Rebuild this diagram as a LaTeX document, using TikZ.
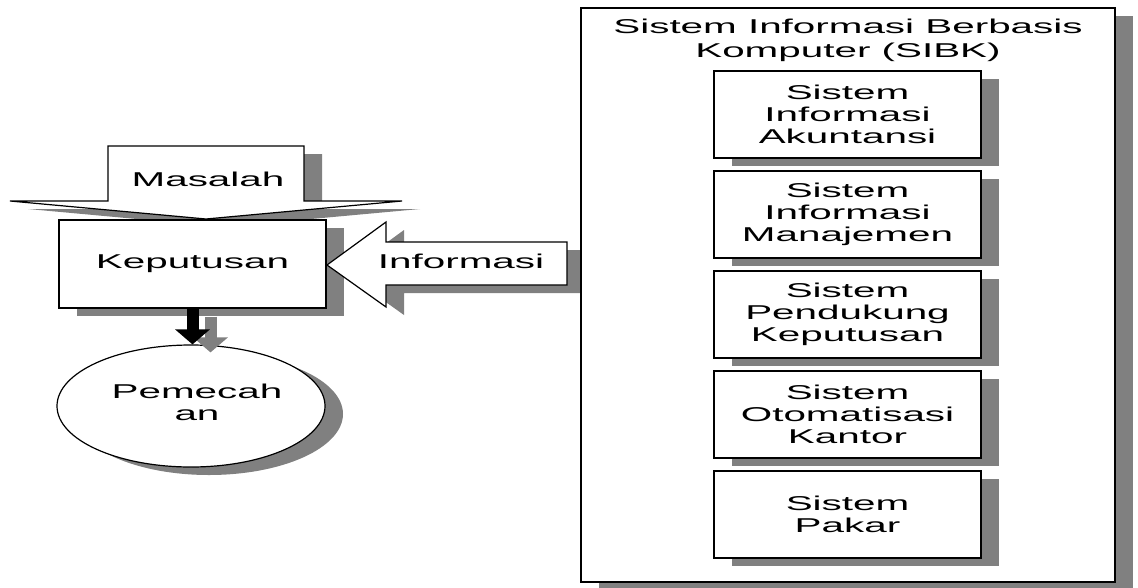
\documentclass[tikz,border=0pt]{standalone}
\usepackage{fontspec}
\newfontfamily\widesans[FakeStretch=2.02]{Liberation Sans}
\usetikzlibrary{shapes.geometric,shadows,arrows.meta}
\definecolor{shadowgray}{HTML}{808080}
\tikzset{
  lbl/.style={font=\widesans\fontsize{20}{22}\selectfont, align=center, inner sep=0pt},
  boxshadow/.style={drop shadow={shadow xshift=18pt, shadow yshift=-8pt, opacity=1, fill=shadowgray}},
  panel/.style={draw=black, line width=1.2pt, fill=white, boxshadow},
  subbox/.style={panel, lbl, minimum width=267pt, minimum height=87pt},
  downarrow/.style={line width=12pt, -{Triangle[width=34pt,length=15pt]}},
}
\begin{document}
\begin{tikzpicture}[x=1pt,y=-1pt]
\useasboundingbox (0,0) rectangle (1138,587);

% "Masalah" block arrow pointing down onto the decision box
\draw[panel] (108,146) -- (304,146) -- (304,201) -- (402,201) -- (206,219)
  -- (10,201) -- (108,201) -- cycle;
\node[lbl] (mas) at (208,179) {Masalah};

% decision box
\node[panel, lbl, minimum width=267pt, minimum height=88pt] (kep) at (192.5,264) {Keputusan};

% "Informasi" block arrow coming from the SIBK panel
\draw[panel] (567,242) -- (386,242) -- (386,222) -- (327,265) -- (386,307)
  -- (386,285) -- (567,285) -- cycle;
\node[lbl] (inf) at (461,261) {Informasi};

% computer-based information system panel
\node[panel, minimum width=534pt, minimum height=574pt] (sibk) at (848,295) {};
\node[lbl, font=\widesans\fontsize{20}{24}\selectfont, anchor=base] (title) at (848,57)
  {Sistem Informasi Berbasis\\Komputer (SIBK)};

\node[subbox] (sia) at (847.5,114.5) {Sistem\\Informasi\\Akuntansi};
\node[subbox] (sim) at (847.5,214.5) {Sistem\\Informasi\\Manajemen};
\node[subbox] (spk) at (847.5,314.5) {Sistem\\Pendukung\\Keputusan};
\node[subbox] (sok) at (847.5,414.5) {Sistem\\Otomatisasi\\Kantor};
\node[subbox] (sp)  at (847.5,514.5) {Sistem\\Pakar};

% solution ellipse
\node[panel, ellipse, minimum width=268pt, minimum height=122pt, inner sep=0pt] (pem) at (191,406) {};
\node[lbl] (pemtext) at (197,402) {Pemecah\\an};

% arrow from decision to solution, with its shadow
\coordinate (a1) at (kep.south);
\coordinate (a2) at (kep.south |- pem.north);
\draw[downarrow, shadowgray] ([shift={(18,8)}]a1) -- ([shift={(18,8)}]a2);
\draw[downarrow, black] (a1) -- (a2);
\end{tikzpicture}
\end{document}
